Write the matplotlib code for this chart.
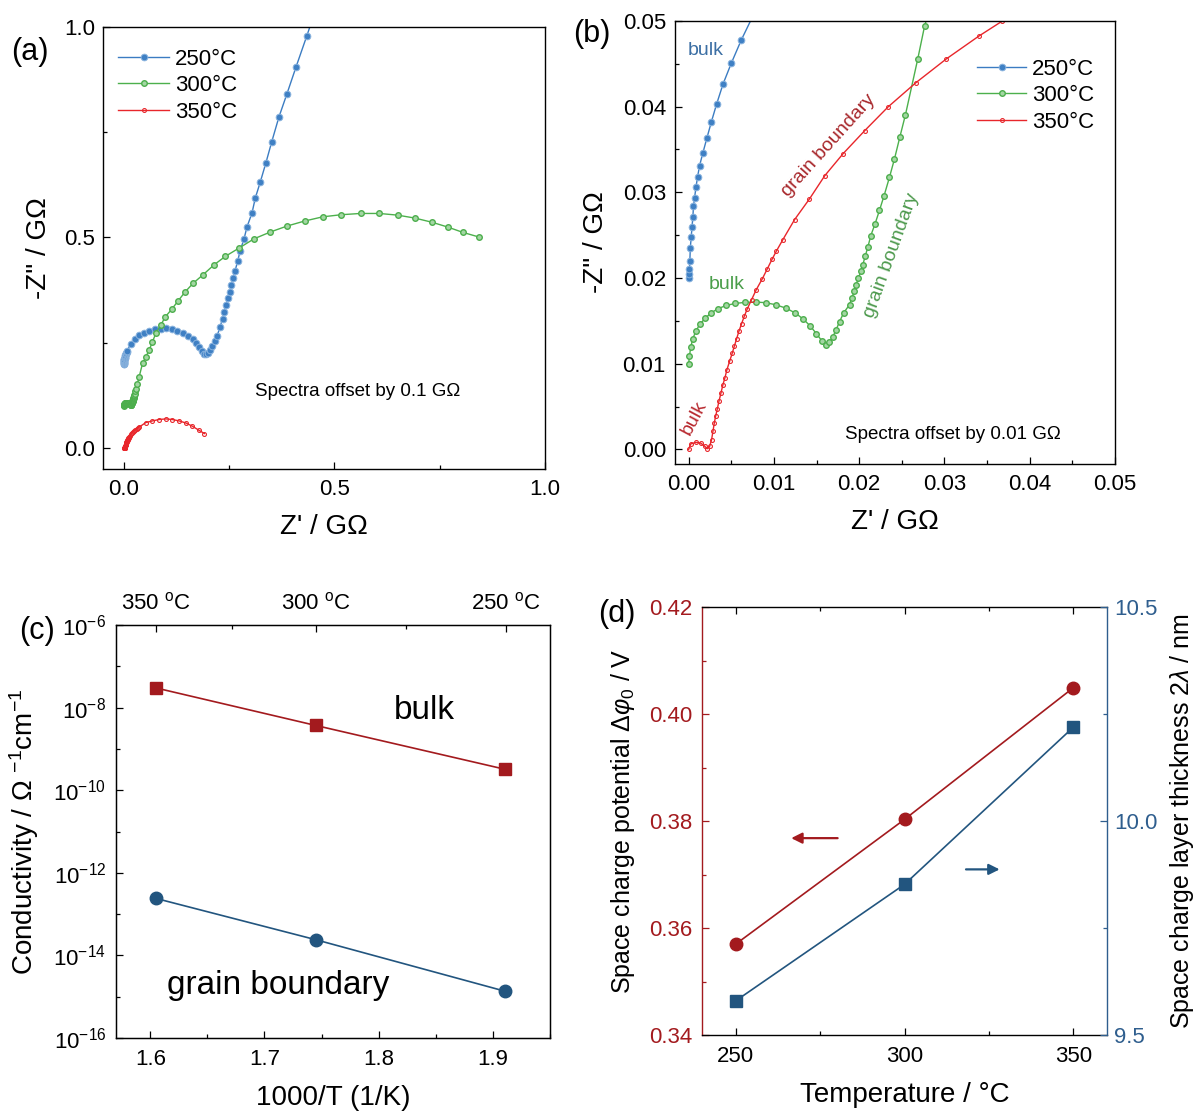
import numpy as np
import matplotlib.pyplot as plt
from matplotlib.ticker import MultipleLocator

plt.rcParams['font.family'] = ['Liberation Sans', 'DejaVu Sans']
plt.rcParams['mathtext.fontset'] = 'custom'
plt.rcParams['mathtext.rm'] = 'Liberation Sans'
plt.rcParams['mathtext.it'] = 'Liberation Sans:italic'
plt.rcParams['mathtext.bf'] = 'Liberation Sans:bold'
plt.rcParams['xtick.direction'] = 'in'
plt.rcParams['ytick.direction'] = 'in'

# Nyquist spectra, raw (Z', -Z'') in GOhm, before the display offset
z250_re = [0.0, 0.00005, 0.0001, 0.00014, 0.0002, 0.0003, 0.0004, 0.0005, 0.00057, 0.0007,
           0.00086, 0.00105, 0.00128, 0.00167, 0.00214, 0.00266, 0.00328, 0.00404, 0.0050,
           0.00618, 0.0075,
           0.016, 0.025, 0.036, 0.048, 0.060, 0.073, 0.087, 0.100, 0.115, 0.127,
           0.139, 0.151, 0.163, 0.171, 0.178, 0.185, 0.190, 0.195, 0.200, 0.205,
           0.210, 0.215, 0.221, 0.228, 0.234, 0.238, 0.242, 0.247, 0.251, 0.255,
           0.259, 0.264, 0.270, 0.276, 0.285, 0.292, 0.304, 0.312, 0.324, 0.337,
           0.351, 0.368, 0.387, 0.409, 0.4345, 0.46]
z250_im = [0.0, 0.0005, 0.001, 0.00195, 0.00355, 0.00476, 0.0060, 0.00717, 0.00838, 0.00938,
           0.0106, 0.0118, 0.0131, 0.0146, 0.01633, 0.0182, 0.0203, 0.02265, 0.02506,
           0.02779, 0.0305,
           0.047, 0.058, 0.068, 0.074, 0.078, 0.082, 0.0837, 0.0845, 0.082, 0.078,
           0.074, 0.066, 0.058, 0.049, 0.040, 0.031, 0.0243, 0.0228, 0.026, 0.033,
           0.043, 0.054, 0.066, 0.0864, 0.107, 0.123, 0.1396, 0.155, 0.1715, 0.186,
           0.2026, 0.2214, 0.2435, 0.269, 0.296, 0.3245, 0.358, 0.394, 0.4326, 0.477,
           0.5275, 0.586, 0.641, 0.706, 0.7795, 0.855]

z300_re = [0.0, 0.0001, 0.00024, 0.00048, 0.00086, 0.00133, 0.00195, 0.00262, 0.00347, 0.00442,
           0.00547, 0.00666, 0.00785, 0.00904, 0.01023, 0.01142, 0.01251, 0.01346, 0.01427, 0.01499,
           0.0156, 0.01608, 0.01651, 0.01689, 0.01727, 0.0177, 0.01817, 0.01887, 0.01914, 0.01941,
           0.01964, 0.01992, 0.02019, 0.02043, 0.0207, 0.02101, 0.02136, 0.02187, 0.02238, 0.02292,
           0.02355, 0.02414, 0.02476, 0.02543, 0.02687, 0.02768,
           0.032, 0.036, 0.044, 0.0517, 0.0596, 0.0676, 0.0755, 0.0873, 0.0978, 0.113,
           0.1276, 0.1446, 0.164, 0.188, 0.214, 0.2406, 0.273, 0.3087, 0.3478, 0.387,
           0.429, 0.472, 0.516, 0.562, 0.606, 0.650, 0.691, 0.732, 0.7696, 0.805, 0.844]
z300_im = [0.0, 0.0009, 0.0019, 0.0029, 0.00383, 0.00463, 0.00531, 0.00592, 0.00644, 0.0068,
           0.00704, 0.00716, 0.0072, 0.00712, 0.00688, 0.00648, 0.00592, 0.00519, 0.00439, 0.0035,
           0.0027, 0.00218, 0.0025, 0.0031, 0.00391, 0.00491, 0.00592, 0.00689, 0.00767, 0.00844,
           0.00923, 0.01001, 0.01078, 0.01156, 0.01253, 0.01358, 0.01494, 0.01635, 0.0179, 0.01961,
           0.02175, 0.0239, 0.02642, 0.02907, 0.03557, 0.03946,
           0.053, 0.069, 0.1006, 0.116, 0.132, 0.152, 0.172, 0.1916, 0.211, 0.229,
           0.248, 0.27, 0.291, 0.3116, 0.335, 0.355, 0.3746, 0.3967, 0.413, 0.427,
           0.439, 0.449, 0.454, 0.457, 0.457, 0.453, 0.446, 0.436, 0.4245, 0.412, 0.4008]

z350_re = [0.0, 0.00023, 0.00082, 0.0014, 0.00191, 0.00219, 0.00246, 0.00269, 0.00285, 0.00301,
           0.00316, 0.00336, 0.00355, 0.00379, 0.00402, 0.00425, 0.00449, 0.0048, 0.00512, 0.00535,
           0.00562, 0.00589, 0.00621, 0.00652, 0.00687, 0.00738, 0.00793, 0.00863, 0.00922, 0.0098,
           0.01027, 0.01105, 0.01242, 0.01417, 0.01597, 0.01812, 0.02065, 0.02339, 0.02662, 0.03022,
           0.0340, 0.03674,
           0.0517, 0.0676, 0.0833, 0.0992, 0.115, 0.1308, 0.1467, 0.1625, 0.178, 0.191]
z350_im = [0.0, 0.00063, 0.00082, 0.00075, 0.00035, 0.00008, 0.00035, 0.00113, 0.0021, 0.00308,
           0.00385, 0.00471, 0.0056, 0.00658, 0.00755, 0.00833, 0.0093, 0.01027, 0.01125, 0.01202,
           0.01289, 0.01377, 0.01467, 0.01552, 0.01639, 0.01747, 0.01864, 0.01989, 0.02106, 0.02222,
           0.02311, 0.02448, 0.02681, 0.02923, 0.03195, 0.03452, 0.0372, 0.03997, 0.04277, 0.04557,
           0.04821, 0.04996,
           0.0603, 0.0642, 0.0675, 0.069, 0.0675, 0.0642, 0.0594, 0.0516, 0.042, 0.0342]

spectra_labels = ['250°C', '300°C', '350°C']
spectra_shift = [2, 1, 0]

# Arrhenius data
inv_T = [1.605, 1.745, 1.911]
sigma_bulk = [3.0e-8, 3.7e-9, 3.2e-10]
sigma_gb = [2.4e-13, 2.4e-14, 1.35e-15]
top_temps = [350, 300, 250]
top_minor_temps = [325, 275]

# space charge results
temp_C = [250, 300, 350]
phi0 = [0.357, 0.3803, 0.4049]
thickness = [9.58, 9.852, 10.219]

BLUE, GREEN, RED = '#3b7cc2', '#4cb04c', '#e8262b'
DARKRED, DARKBLUE = '#a31a1e', '#22557f'

styles = [
    dict(color=BLUE, marker='o', ms=4.8, mfc='#3f80c4', mec='#8ab3de', mew=0.7, lw=1.0),
    dict(color=GREEN, marker='o', ms=4.0, mfc='#a3d6a3', mec='#4cae4c', mew=1.0, lw=1.0),
    dict(color=RED, marker='o', ms=2.8, mfc='none', mec=RED, mew=0.8, lw=1.0),
]
spectra = [(z250_re, z250_im), (z300_re, z300_im), (z350_re, z350_im)]

fig = plt.figure(figsize=(11.97, 11.14), dpi=100)
ax_a = fig.add_axes([0.0860, 0.5790, 0.3693, 0.3968])
ax_b = fig.add_axes([0.5639, 0.5835, 0.3676, 0.3977])
ax_c = fig.add_axes([0.0969, 0.0682, 0.3626, 0.3707])
ax_d = fig.add_axes([0.5865, 0.0709, 0.3383, 0.3842])

TICK = 16
LABEL = 20


def style_axis(ax, right=False, top=False):
    ax.tick_params(which='both', labelsize=TICK, width=0.9, right=right, top=top)
    ax.tick_params(which='major', length=5)
    ax.tick_params(which='minor', length=3)
    for sp in ax.spines.values():
        sp.set_linewidth(1.0)


# (a) full spectra, offset by 0.1 GOhm
for (re, im), lab, st, k in zip(spectra, spectra_labels, styles, spectra_shift):
    ax_a.plot(re, np.array(im) + 0.1 * k, label=lab, **st)
ax_a.set_xlim(-0.05, 1.0)
ax_a.set_ylim(-0.05, 1.0)
ax_a.xaxis.set_major_locator(MultipleLocator(0.5))
ax_a.xaxis.set_minor_locator(MultipleLocator(0.25))
ax_a.yaxis.set_major_locator(MultipleLocator(0.5))
ax_a.yaxis.set_minor_locator(MultipleLocator(0.25))
style_axis(ax_a)
ax_a.tick_params(axis='x', pad=7)
ax_a.tick_params(axis='y', pad=5.5)
ax_a.set_xlabel("Z' / GΩ", fontsize=LABEL, labelpad=10)
ax_a.set_ylabel('-Z" / GΩ', fontsize=LABEL, labelpad=9)
ax_a.legend(loc='upper left', bbox_to_anchor=(0.014, 0.971), borderaxespad=0,
            frameon=False, fontsize=16, handlelength=2.3, handletextpad=0.25,
            labelspacing=0.25)
ax_a.text(0.31, 0.135, 'Spectra offset by 0.1 GΩ', fontsize=13.5, va='center')

# (b) high-frequency detail, offset by 0.01 GOhm
for (re, im), lab, st, k in zip(spectra, spectra_labels, styles, spectra_shift):
    ax_b.plot(re, np.array(im) + 0.01 * k, label=lab, **st)
ax_b.set_xlim(-0.0016, 0.05)
ax_b.set_ylim(-0.0017, 0.05)
ax_b.xaxis.set_major_locator(MultipleLocator(0.01))
ax_b.xaxis.set_minor_locator(MultipleLocator(0.005))
ax_b.yaxis.set_major_locator(MultipleLocator(0.01))
ax_b.yaxis.set_minor_locator(MultipleLocator(0.005))
ax_b.xaxis.set_major_formatter(lambda v, p: f'{v:.2f}')
ax_b.yaxis.set_major_formatter(lambda v, p: f'{v:.2f}')
style_axis(ax_b)
ax_b.tick_params(axis='x', pad=7)
ax_b.tick_params(axis='y', pad=6.5)
ax_b.set_xlabel("Z' / GΩ", fontsize=LABEL, labelpad=10)
ax_b.set_ylabel('-Z" / GΩ', fontsize=LABEL, labelpad=10)
ax_b.legend(loc='upper left', bbox_to_anchor=(0.667, 0.935), borderaxespad=0,
            frameon=False, fontsize=16, handlelength=2.2, handletextpad=0.27,
            labelspacing=0.25)
ax_b.text(0.0183, 0.00177, 'Spectra offset by 0.01 GΩ', fontsize=13.5, va='center')
ax_b.text(-0.0001, 0.0465, 'bulk', color='#3c6fa4', fontsize=14, va='center')
ax_b.text(0.0024, 0.0192, 'bulk', color='#4a9e4a', fontsize=14, va='center')
ax_b.text(0.0007, 0.0037, 'bulk', color='#b8292f', fontsize=14, va='center',
          ha='center', rotation=62)
ax_b.text(0.0164, 0.0354, 'grain boundary', color='#a8282c', fontsize=14,
          va='center', ha='center', rotation=48)
ax_b.text(0.0238, 0.0226, 'grain boundary', color='#4e9a4e', fontsize=14,
          va='center', ha='center', rotation=70)

# (c) Arrhenius plot
ax_c.plot(inv_T, sigma_bulk, color=DARKRED, marker='s', ms=9, lw=1.2)
ax_c.plot(inv_T, sigma_gb, color=DARKBLUE, marker='o', ms=9, lw=1.2)
ax_c.set_yscale('log')
ax_c.set_xlim(1.57, 1.95)
ax_c.set_ylim(1e-16, 1e-6)
ax_c.set_xticks([1.6, 1.7, 1.8, 1.9])
ax_c.set_xticks([1.65, 1.75, 1.85, 1.95], minor=True)
major_exp = [-16, -14, -12, -10, -8, -6]
ax_c.set_yticks([10.0 ** e for e in major_exp],
                [f'$10^{{{e}}}$' for e in major_exp])
ax_c.set_yticks([10.0 ** e for e in [-15, -13, -11, -9, -7]], minor=True)
ax_c.yaxis.set_minor_formatter(plt.NullFormatter())
style_axis(ax_c)
ax_c.tick_params(axis='x', pad=8)
ax_c.tick_params(axis='y', pad=7)
ax_c.set_xlabel('1000/T (1/K)', fontsize=LABEL, labelpad=11)
ax_c.set_ylabel('Conductivity / Ω $^{-1}$cm$^{-1}$', fontsize=LABEL, labelpad=9)
ax_c.text(1.813, 10 ** -8.08, 'bulk', fontsize=24, va='center')
ax_c.text(1.615, 10 ** -14.72, 'grain boundary', fontsize=24, va='center')

ax_ct = ax_c.twiny()
ax_ct.set_xlim(ax_c.get_xlim())
ax_ct.set_xticks([1000 / (t + 273.15) for t in top_temps],
                 [f'{t} $^{{\\mathrm{{o}}}}$C' for t in top_temps])
ax_ct.set_xticks([1000 / (t + 273.15) for t in top_minor_temps], minor=True)
ax_ct.tick_params(which='both', labelsize=TICK, width=0.9, pad=8)
ax_ct.tick_params(which='major', length=5)
ax_ct.tick_params(which='minor', length=3)

# (d) space charge potential and layer thickness
ax_d.plot(temp_C, phi0, color=DARKRED, marker='o', ms=9, lw=1.2)
ax_d.set_xlim(240, 360)
ax_d.set_ylim(0.34, 0.42)
ax_d.set_xticks([250, 300, 350])
ax_d.set_xticks([275, 325], minor=True)
ax_d.set_yticks([0.34, 0.36, 0.38, 0.40, 0.42])
ax_d.set_yticks([0.35, 0.37, 0.39, 0.41], minor=True)
style_axis(ax_d, top=True)
ax_d.tick_params(axis='x', pad=8)
ax_d.tick_params(axis='y', pad=7, colors=DARKRED, which='both')
ax_d.spines['left'].set_color(DARKRED)
ax_d.spines['right'].set_visible(False)
ax_d.set_xlabel('Temperature / °C', fontsize=LABEL, labelpad=11)
ax_d.set_ylabel(r'Space charge potential $\Delta\varphi_0$ / V', fontsize=18,
                labelpad=9)

ax_d2 = ax_d.twinx()
ax_d2.plot(temp_C, thickness, color=DARKBLUE, marker='s', ms=9, lw=1.2)
ax_d2.set_ylim(9.5, 10.5)
ax_d2.set_yticks([9.5, 10.0, 10.5])
ax_d2.set_yticks([9.75, 10.25], minor=True)
ax_d2.tick_params(which='both', labelsize=TICK, width=0.9, colors='#2f5e8e', pad=5)
ax_d2.tick_params(which='major', length=5)
ax_d2.tick_params(which='minor', length=3)
for name in ['left', 'top', 'bottom']:
    ax_d2.spines[name].set_visible(False)
ax_d2.spines['right'].set_color('#2f5e8e')
ax_d2.spines['right'].set_linewidth(1.0)
ax_d2.set_ylabel(r'Space charge layer thickness 2$\lambda$ / nm', fontsize=18,
                 labelpad=8)

ax_d.annotate('', xy=(265.6, 0.3768), xytext=(281, 0.3768),
              arrowprops=dict(arrowstyle='-|>', color=DARKRED, lw=1.6,
                              mutation_scale=16))
ax_d2.annotate('', xy=(329, 9.887), xytext=(317.4, 9.887),
               arrowprops=dict(arrowstyle='-|>', color=DARKBLUE, lw=1.6,
                               mutation_scale=16))

for lab, (x, y) in zip(['(a)', '(b)', '(c)', '(d)'],
                       [(30, 52), (592, 34), (37, 631), (617, 614)]):
    fig.text(x / 1197, 1 - y / 1114, lab, fontsize=22, ha='center', va='center')

fig.savefig('out.png', dpi=100)
